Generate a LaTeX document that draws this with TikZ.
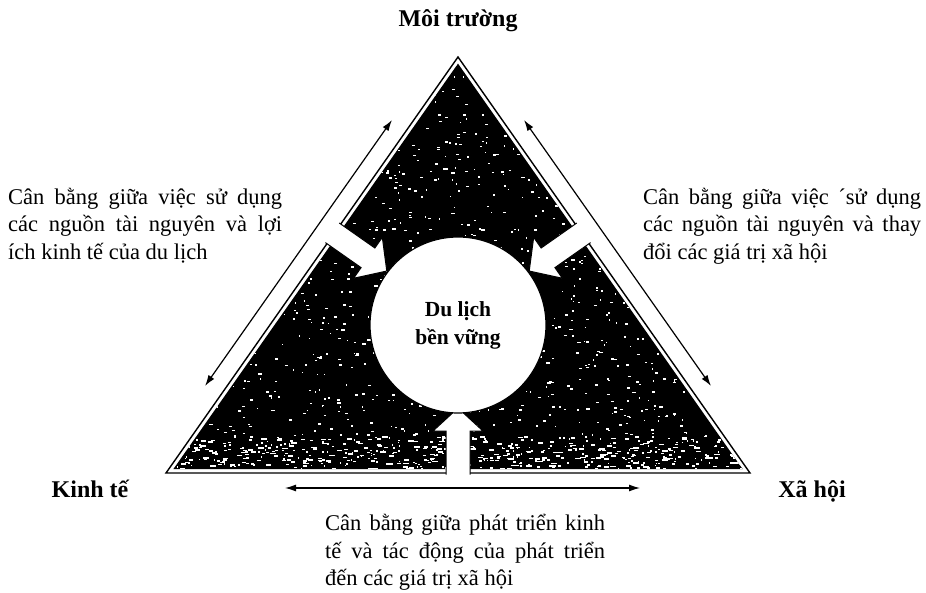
\documentclass[tikz,border=0pt]{standalone}
\usepackage{fontspec}
\setmainfont{Liberation Serif}
\usetikzlibrary{calc, arrows.meta}

\begin{document}
\begin{tikzpicture}[x=1pt, y=-1pt,
        nhan/.style={font=\bfseries\fontsize{24}{28}\selectfont, inner sep=0pt, anchor=base},
        doan/.style={align=justify, inner sep=0pt, anchor=north west, font=\fontsize{22.5}{27.5}\selectfont},
        muiten/.style={line width=1.2pt, {Latex[length=11pt,width=7pt]}-{Latex[length=11pt,width=7pt]}}]
        \useasboundingbox (0,0) rectangle (926,593);
        %dinh tam giac
        \coordinate (A) at (458,57);
        \coordinate (B) at (166,473);
        \coordinate (C) at (750,473);
        \coordinate (I) at (458,321);
        %ve tam giac
        \draw[line width=1.4pt] (A)--(B)--(C)--cycle;
        \fill[black] ($(I)!0.975!(A)$)--($(I)!0.975!(B)$)--($(I)!0.975!(C)$)--cycle;
        %cham trang
        \begin{scope}
            \clip ($(I)!0.975!(A)$)--($(I)!0.975!(B)$)--($(I)!0.975!(C)$)--cycle;
            \pgfmathsetseed{12}
            \foreach \i in {1,...,1600}{
                \pgfmathsetmacro{\px}{166+584*rnd}
                \pgfmathsetmacro{\py}{57+416*rnd}
                \pgfmathsetmacro{\dx}{1+2.5*rnd}
                \fill[white] (\px,\py) rectangle ++(\dx,1.5);
            }
            \foreach \i in {1,...,450}{
                \pgfmathsetmacro{\px}{166+584*rnd}
                \pgfmathsetmacro{\py}{436+37*rnd}
                \pgfmathsetmacro{\dx}{1+5*rnd}
                \fill[white] (\px,\py) rectangle ++(\dx,1.6);
            }
        \end{scope}
        %ve mui ten trang
        \foreach \goc in {144.94, 35.06, -90}{
            \begin{scope}[shift={(I)}, rotate=\goc]
                \fill[white] (154,12)--(110,12)--(110,25)--(87,0)--(110,-25)--(110,-12)--(154,-12)--cycle;
                \draw[line width=1pt] (153.5,12)--(110,12)--(110,25)--(87,0)--(110,-25)--(110,-12)--(153.5,-12);
            \end{scope}
        }
        %ve hinh tron
        \node[circle, draw, line width=1.2pt, fill=white, minimum size=176pt, inner sep=0pt, align=center,
            font=\bfseries\fontsize{21.5}{28}\selectfont] (dl) at ($(I)+(0,4)$) {Du lịch\\bền vững};
        %nhan
        \node[nhan] (mt) at (458,27) {Môi trường};
        \node[nhan] (kt) at (90,497) {Kinh tế};
        \node[nhan] (xh) at (812,497) {Xã hội};
        %doan van
        \node[doan, text width=274pt] (tl) at (8,188) {Cân bằng giữa việc sử dụng\linebreak các nguồn tài nguyên và lợi\linebreak ích kinh tế của du lịch};
        \node[doan, text width=278pt] (tr) at (643,188) {Cân bằng giữa việc ´sử dụng\linebreak các nguồn tài nguyên và thay\linebreak đổi các giá trị xã hội};
        \node[doan, text width=280pt] (tb) at (325,514) {Cân bằng giữa phát triển kinh\linebreak tế và tác động của phát triển\linebreak đến các giá trị xã hội};
        %mui ten hai dau
        \coordinate (l1) at (205,386);
        \coordinate (l2) at (392,120);
        \coordinate (r1) at (711,386);
        \coordinate (r2) at (524,120);
        \coordinate (b1) at (285,488);
        \coordinate (b2) at (640,488);
        \draw[muiten] (l1)--(l2);
        \draw[muiten] (r2)--(r1);
        \draw[muiten] (b1)--(b2);
\end{tikzpicture}
\end{document}
